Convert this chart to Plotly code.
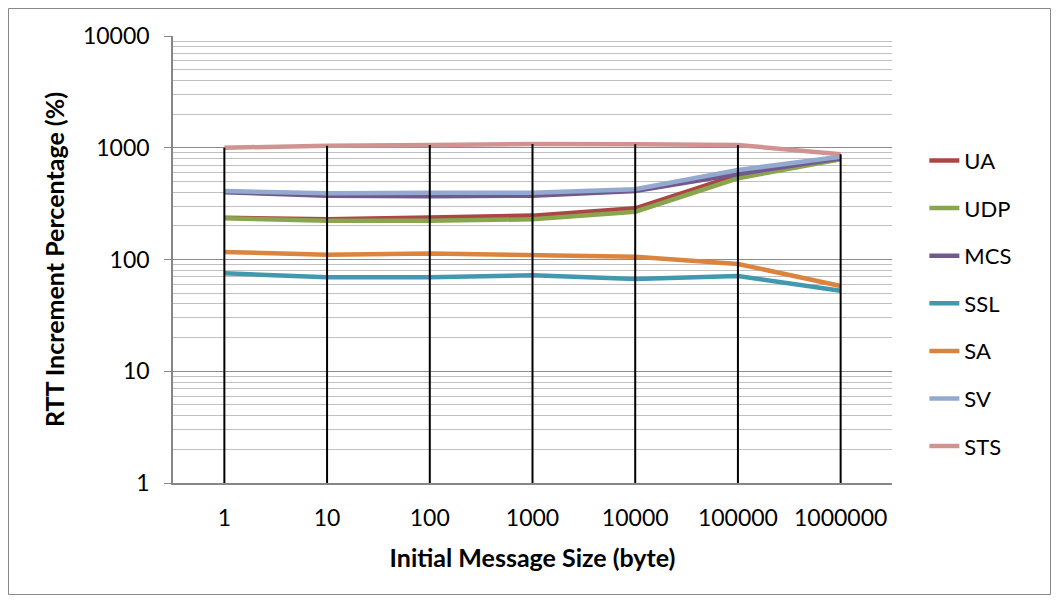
import plotly.graph_objects as go

categories = ["1", "10", "100", "1000", "10000", "100000", "1000000"]
series_names = ["UA", "UDP", "MCS", "SSL", "SA", "SV", "STS"]
UA = [236, 229, 238, 247, 287, 570, 805]
UDP = [234, 222, 222, 229, 268, 533, 789]
MCS = [400, 372, 368, 372, 410, 582, 805]
SSL = [75.3, 69.3, 69.3, 72.2, 66.9, 71.2, 52.6]
SA = [117, 110, 113, 109, 106, 91.2, 57.9]
SV = [410, 391, 396, 396, 425, 632, 832]
STS = [1000, 1043, 1059, 1081, 1075, 1059, 874]
values = [UA, UDP, MCS, SSL, SA, SV, STS]
colors = ["#AA4643", "#89A54E", "#71588F", "#4198AF", "#DB843D", "#93A9CF", "#D19392"]

FONT = "Lato, 'Open Sans', sans-serif"

fig = go.Figure()
for name, vals, col in zip(series_names, values, colors):
    fig.add_trace(go.Scatter(
        x=categories, y=vals, name=name, mode="lines",
        line=dict(color=col, width=4.5), legendgroup=name,
    ))

# drop lines from the highest series to the axis
drop_x, drop_y = [], []
for i, c in enumerate(categories):
    top = max(v[i] for v in values)
    drop_x += [c, c, None]
    drop_y += [1, top, None]
fig.add_trace(go.Scatter(x=drop_x, y=drop_y, mode="lines",
                         line=dict(color="black", width=2),
                         showlegend=False, hoverinfo="skip"))

minor_vals = [m * 10 ** d for d in range(4) for m in range(2, 10)]

W, H = 1043, 587
L, T = 165, 28
PW, PH = 719, 447
fig.update_layout(
    width=W, height=H,
    margin=dict(l=L, r=W - L - PW, t=T, b=H - T - PH),
    paper_bgcolor="white", plot_bgcolor="white",
    font=dict(family=FONT, size=23, color="black"),
    showlegend=True,
    legend=dict(x=1.045, xanchor="left", y=0.768, yanchor="top",
                tracegroupgap=16, font=dict(size=22, family=FONT),
                bgcolor="rgba(0,0,0,0)", itemwidth=30),
    shapes=[dict(type="rect", xref="paper", yref="paper",
                 x0=(0.5 - L) / PW, x1=(W - 0.5 - L) / PW,
                 y0=(T + PH - (H - 0.5)) / PH, y1=(T + PH - 0.5) / PH,
                 line=dict(color="#888888", width=1), layer="below")],
)

fig.update_xaxes(
    type="category", categoryorder="array", categoryarray=categories,
    range=[-0.5, 6.5], showgrid=False,
    showline=True, linecolor="#868686", linewidth=1.5,
    ticks="", ticklabelstandoff=14,
    tickfont=dict(size=23, family=FONT),
    title=dict(text="<b>Initial Message Size (byte)</b>", font=dict(size=25, family=FONT), standoff=19),
)
fig.update_yaxes(
    type="log", range=[0, 4],
    tickvals=[1, 10, 100, 1000, 10000],
    ticktext=["1", "10", "100", "1000", "10000"],
    showgrid=True, gridcolor="#8c8c8c", gridwidth=1,
    minor=dict(tickvals=minor_vals, showgrid=True, gridcolor="#c0c0c0", gridwidth=1, ticks=""),
    showline=True, linecolor="#868686", linewidth=1.5,
    ticks="outside", ticklen=7, tickcolor="#868686", ticklabelstandoff=10,
    tickfont=dict(size=23, family=FONT),
    zeroline=False,
    title=dict(text="<b>RTT Increment Percentage (%)</b>", font=dict(size=25, family=FONT), standoff=11),
)

fig.write_html("out.html")
